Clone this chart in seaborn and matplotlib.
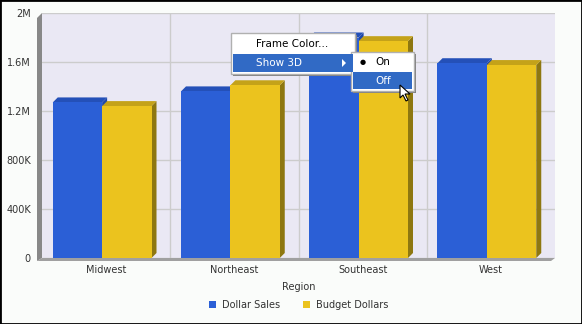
import matplotlib
matplotlib.use("Agg")
import matplotlib.pyplot as plt
from matplotlib.patches import Polygon, Rectangle
import seaborn as sns
import pandas as pd
import numpy as np

regions = ["Midwest", "Northeast", "Southeast", "West"]
dollar_sales = [1270000, 1360000, 1800000, 1590000]
budget_dollars = [1240000, 1410000, 1770000, 1575000]
series_names = ["Dollar Sales", "Budget Dollars"]
ytick_vals = [0, 400000, 800000, 1200000, 1600000, 2000000]
ytick_labels = ["0", "400K", "800K", "1.2M", "1.6M", "2M"]

df = pd.DataFrame({
    "Region": regions * 2,
    "Value": dollar_sales + budget_dollars,
    "Series": [series_names[0]] * 4 + [series_names[1]] * 4,
})

sns.set_style("white")
plt.rcParams["font.family"] = ["DejaVu Sans"]

W, H = 582, 324
fig = plt.figure(figsize=(W / 100, H / 100), dpi=100)
fig.patch.set_facecolor("#FAFCFA")
ax = fig.add_axes([42 / W, 1 - 258 / H, (555 - 42) / W, (258 - 13) / H])
ax.set_facecolor("#EAE8F4")

blue = "#2B5FD6"
yellow = "#EBC31E"
sns.barplot(data=df, x="Region", y="Value", hue="Series", order=regions,
            hue_order=series_names, palette=[blue, yellow], width=0.77,
            saturation=1, ax=ax, legend=True, zorder=3, linewidth=0,
            edgecolor="none")

ax.set_xlim(-0.5, 3.5)
ax.set_ylim(0, 2000000)
ax.set_yticks(ytick_vals)
ax.set_yticklabels(ytick_labels)
ax.set_xticks([0.5, 1.5, 2.5], minor=True)
ax.grid(True, axis="y", color="#CCCCCC", lw=1, zorder=0)
ax.grid(True, axis="x", which="minor", color="#CCCCCC", lw=1, zorder=0)
ax.tick_params(axis="both", which="both", length=0, labelsize=7, colors="#333333")
ax.tick_params(axis="y", pad=8)
ax.tick_params(axis="x", pad=5)
ax.set_xlabel("Region", fontsize=7, color="#333333", labelpad=5)
ax.set_ylabel("")
for s in ax.spines.values():
    s.set_visible(False)

# 3D depth on bars derived from the bar patches
dx, dy = 5, 5
side_cols = {blue: ("#8E7710", "#2450B8"), yellow: ("#8E7710", "#C4A219")}
side_cols[blue] = ("#1F48A8", "#2450B8")
tD = ax.transData
inv = tD.inverted()
shift = (tD.inverted().transform((4, 0))[0] - tD.inverted().transform((0, 0))[0])
for p in list(ax.patches):
    h = p.get_height()
    if h <= 0:
        continue
    p.set_x(p.get_x() - shift)
    fc = matplotlib.colors.to_hex(p.get_facecolor())
    x0, y0 = p.get_x(), p.get_y()
    w = p.get_width()
    (ax0, ay0), (ax1, ay1) = tD.transform([(x0, y0), (x0 + w, y0 + h)])
    key = blue if fc.lower() == blue.lower() else yellow
    sc, tc = side_cols[key]
    side = [(ax1, ay0), (ax1 + dx, ay0 + dy), (ax1 + dx, ay1 + dy), (ax1, ay1)]
    top = [(ax0, ay1), (ax0 + dx, ay1 + dy), (ax1 + dx, ay1 + dy), (ax1, ay1)]
    for pts, c in ((side, sc), (top, tc)):
        ax.add_patch(Polygon(inv.transform(pts), closed=True, facecolor=c,
                             edgecolor="none", zorder=2, clip_on=False))

# left wall and floor
(L, B), (R, T) = tD.transform([(-0.5, 0), (3.5, 2000000)])
wall = [(L, T), (L - 5, T - 5), (L - 5, B - 3), (L, B)]
floor = [(L - 5, B - 3), (L, B), (R, B), (R - 4, B - 3)]
ax.add_patch(Polygon(inv.transform(wall), closed=True, facecolor="#888888",
                     edgecolor="none", zorder=1, clip_on=False))
ax.add_patch(Polygon(inv.transform(floor), closed=True, facecolor="#A0A0A0",
                     edgecolor="none", zorder=4, clip_on=False))

# legend
leg = ax.legend(loc="upper center", bbox_to_anchor=(0.5, -0.155), ncol=2,
                frameon=False, fontsize=7, handlelength=0.75, handleheight=0.75,
                columnspacing=2.3, handletextpad=0.6, borderaxespad=0)
for t in leg.get_texts():
    t.set_color("#333333")

# figure border
fig.add_artist(Rectangle((0, 0), 1, 1, transform=fig.transFigure,
                         fill=False, edgecolor="black", lw=2))

# context menu overlay (UI elements)
def fx(px):
    return px / W

def fy(py):
    return 1 - py / H

def box(x0, y0, x1, y1, fc, ec=None, z=10, lw=1):
    fig.add_artist(Rectangle((fx(x0), fy(y1)), fx(x1) - fx(x0), fy(y0) - fy(y1),
                             transform=fig.transFigure, facecolor=fc,
                             edgecolor=ec if ec else "none", lw=lw, zorder=z))

# shadows
box(233, 35, 357, 76, "#7F7F7F", z=9)
box(353, 54, 416, 93, "#7F7F7F", z=9)
box(231, 33, 355, 74, "white", "#B0B0B0", z=10)
box(233, 54, 353, 72, "#316AC5", z=11)
fig.text(fx(256), fy(44), "Frame Color...", fontsize=7.5, color="black",
         va="center", ha="left", zorder=12)
fig.text(fx(256), fy(63), "Show 3D", fontsize=7.5, color="white",
         va="center", ha="left", zorder=12)
fig.add_artist(Polygon([(fx(342), fy(59)), (fx(342), fy(67)), (fx(346), fy(63))],
                       closed=True, transform=fig.transFigure, facecolor="white",
                       edgecolor="none", zorder=12))
box(351, 52, 414, 91, "white", "#B0B0B0", z=10)
box(353, 72, 412, 89, "#316AC5", z=11)
fig.text(fx(363), fy(62), "\u25CF", fontsize=5, color="black",
         va="center", ha="center", zorder=12)
fig.text(fx(375), fy(62), "On", fontsize=7.5, color="black",
         va="center", ha="left", zorder=12)
fig.text(fx(375), fy(81), "Off", fontsize=7.5, color="white",
         va="center", ha="left", zorder=12)
# cursor
cur = [(400, 85), (400, 98), (403, 95), (406, 101), (408, 100), (405, 94), (410, 94)]
fig.add_artist(Polygon([(fx(a), fy(b)) for a, b in cur], closed=True,
                       transform=fig.transFigure, facecolor="white",
                       edgecolor="black", lw=0.8, zorder=13))

fig.savefig("out.png", dpi=100, facecolor=fig.get_facecolor())
